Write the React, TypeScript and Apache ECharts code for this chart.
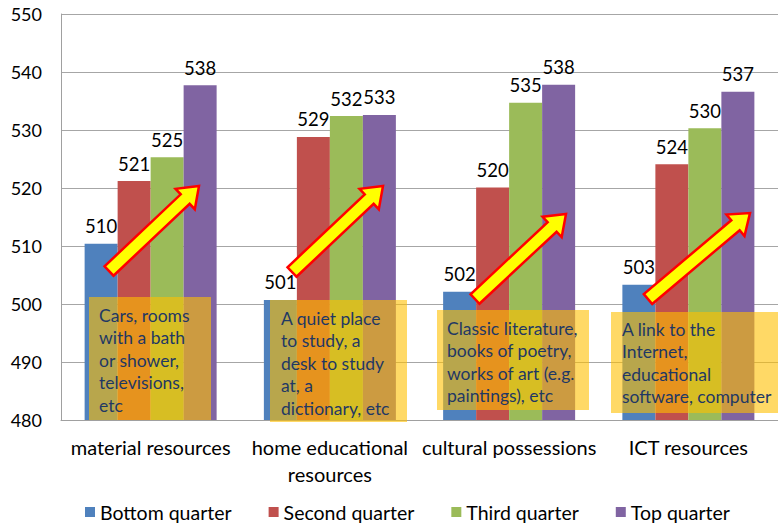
import React, { useEffect, useRef } from "react";
import * as echarts from "echarts";

const categories = ["material resources", "home educational\nresources", "cultural possessions", "ICT resources"];
const seriesNames = ["Bottom quarter", "Second quarter", "Third quarter", "Top quarter"];
const bottomQuarter = [510.4, 500.7, 502.1, 503.3];
const secondQuarter = [521.2, 528.8, 520.1, 524.1];
const thirdQuarter = [525.3, 532.4, 534.7, 530.3];
const topQuarter = [537.7, 532.6, 537.8, 536.6];
const colors = ["#4F81BD", "#C0504D", "#9BBB59", "#8064A2"];
const yMin = 480;
const yMax = 550;
const yInterval = 10;

const boxTexts = [
  "Cars, rooms\nwith a bath\nor shower,\ntelevisions,\netc",
  "A quiet place\nto study, a\ndesk to study\nat, a\ndictionary, etc",
  "Classic literature,\nbooks of poetry,\nworks of art (e.g.\npaintings), etc",
  "A link to the\nInternet,\neducational\nsoftware, computer",
];

const FONT = "Lato, 'Open Sans', sans-serif";

function arrowPoints(tx: number, ty: number, px: number, py: number) {
  const dx = px - tx, dy = py - ty;
  const len = Math.hypot(dx, dy);
  const ux = dx / len, uy = dy / len;
  const nx = -uy, ny = ux;
  const w = 6.5, h = 14, L = 19;
  const bx = px - ux * L, by = py - uy * L;
  return [
    [tx + nx * w, ty + ny * w],
    [bx + nx * w, by + ny * w],
    [bx + nx * h, by + ny * h],
    [px, py],
    [bx - nx * h, by - ny * h],
    [bx - nx * w, by - ny * w],
    [tx - nx * w, ty - ny * w],
  ];
}

export default function App() {
  const ref = useRef<HTMLDivElement>(null);
  useEffect(() => {
    if (!ref.current) return;
    const chart = echarts.init(ref.current, null, { renderer: "svg" });
    const data = [bottomQuarter, secondQuarter, thirdQuarter, topQuarter];
    const boxes = [
      { x: 89, y: 297, w: 122, h: 123, tx: 99, ty: 304 },
      { x: 270, y: 300, w: 137, h: 122, tx: 281, ty: 307 },
      { x: 437, y: 310, w: 152, h: 100, tx: 447, ty: 317 },
      { x: 611, y: 312, w: 170, h: 101, tx: 622, ty: 318 },
    ];
    const arrows = [
      [109, 271, 199, 186],
      [292, 272, 383, 186],
      [475, 299, 566, 214],
      [648, 299, 750, 213],
    ];
    const graphic: any[] = [];
    boxes.forEach((b, i) => {
      graphic.push({
        type: "rect",
        shape: { x: b.x, y: b.y, width: b.w, height: b.h },
        style: { fill: "rgba(255,192,0,0.6)" },
        z: 100,
      });
      graphic.push({
        type: "text",
        x: b.tx,
        y: b.ty,
        style: {
          text: boxTexts[i],
          font: `17.5px ${FONT}`,
          fill: "#1F3864",
          lineHeight: 22.5,
        },
        z: 101,
      });
    });
    arrows.forEach((a) => {
      graphic.push({
        type: "polygon",
        shape: { points: arrowPoints(a[0], a[1], a[2], a[3]) },
        style: { fill: "#FFFF00", stroke: "#FF0000", lineWidth: 2.5, lineJoin: "miter" },
        z: 102,
      });
    });

    chart.setOption({
      animation: false,
      color: colors,
      textStyle: { fontFamily: FONT },
      grid: { left: 61, top: 14, width: 725, height: 406, containLabel: false },
      legend: {
        left: 85,
        top: 502,
        padding: 0,
        icon: "rect",
        itemWidth: 10,
        itemHeight: 10,
        itemGap: 37,
        textStyle: { fontSize: 19.5, color: "#000", fontFamily: FONT },
        data: seriesNames,
      },
      xAxis: {
        type: "category",
        data: categories,
        axisLine: { lineStyle: { color: "#A0A0A0" } },
        axisTick: { show: false },
        axisLabel: { color: "#000", fontSize: 20, margin: 13, lineHeight: 27, interval: 0 },
      },
      yAxis: {
        type: "value",
        min: yMin,
        max: yMax,
        interval: yInterval,
        axisLine: { show: true, lineStyle: { color: "#A0A0A0" } },
        axisTick: { show: false },
        splitLine: { lineStyle: { color: "#A6A6A6" } },
        axisLabel: { color: "#000", fontSize: 18, margin: 19 },
      },
      series: seriesNames.map((name, i) => ({
        name,
        type: "bar",
        data: data[i],
        barWidth: 33,
        barGap: "0%",
        label: {
          show: true,
          position: "top",
          distance: 8,
          color: "#000",
          fontSize: 18.5,
          formatter: (p: any) => String(Math.round(p.value)),
        },
      })),
      graphic,
    });
    return () => chart.dispose();
  }, []);
  return (
    <div
      ref={ref}
      style={{ position: "fixed", left: 0, top: 0, width: 778, height: 525, background: "#fff" }}
    />
  );
}
